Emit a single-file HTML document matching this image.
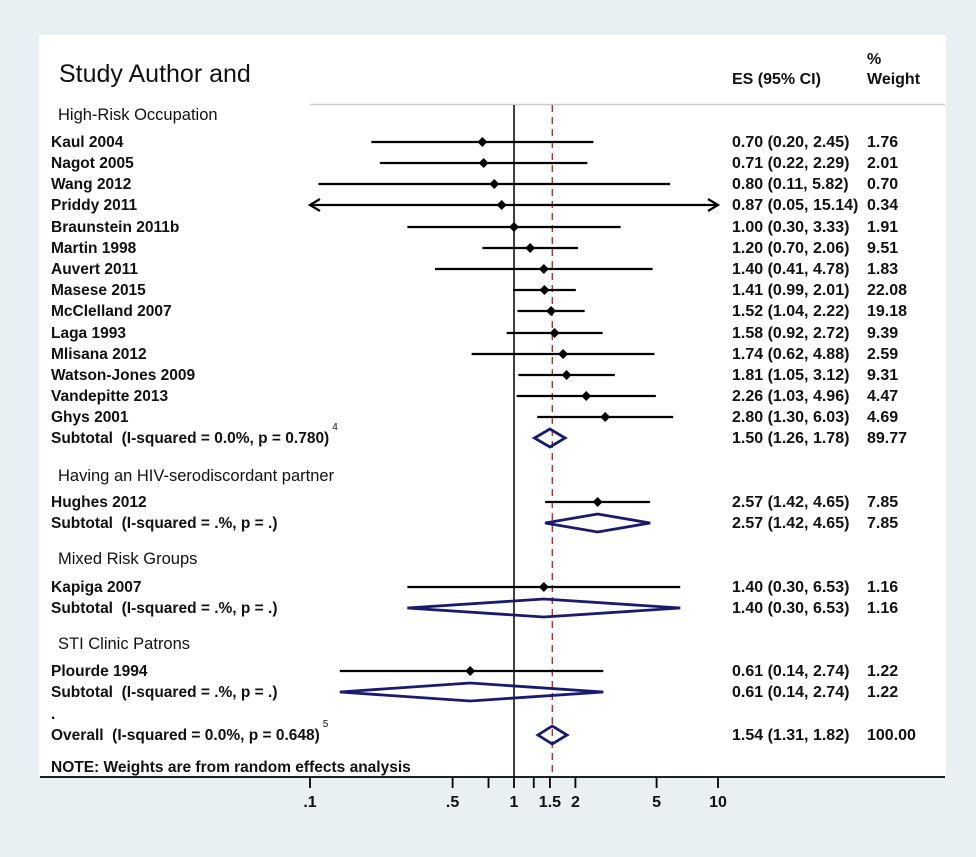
<!DOCTYPE html>
<html><head><meta charset="utf-8"><style>
body{margin:0;background:#e8f0f3;}
svg{display:block;font-family:"Liberation Sans",Arial,sans-serif;}
text{white-space:pre;}
</style></head><body>
<svg id="c" width="976" height="857" viewBox="0 0 976 857">
<rect x="0" y="0" width="976" height="857" fill="#e8f0f3"/>
<rect x="39" y="35" width="907" height="742" fill="#fff"/>
<text x="59" y="82" font-size="25" fill="#111">Study Author and</text>
<text x="732" y="84" font-size="16" font-weight="bold" fill="#111">ES (95% CI)</text>
<text x="867" y="64" font-size="16" font-weight="bold" fill="#111">%</text>
<text x="867" y="84" font-size="16" font-weight="bold" fill="#111">Weight</text>
<line x1="310" y1="104.5" x2="945" y2="104.5" stroke="#ccc" stroke-width="1.5"/>
<g id="marks"></g>
</svg>
<script>
// rows: type, label, es, lo, hi, weight
const rowTypes = ['g','s','s','s','s','s','s','s','s','s','s','s','s','s','s','t','g','s','t','g','s','t','g','s','t','d','o','n'];
const rowLabels = ['High-Risk Occupation','Kaul 2004','Nagot 2005','Wang 2012','Priddy 2011','Braunstein 2011b','Martin 1998','Auvert 2011','Masese 2015','McClelland 2007','Laga 1993','Mlisana 2012','Watson-Jones 2009','Vandepitte 2013','Ghys 2001','Subtotal  (I-squared = 0.0%, p = 0.780)','Having an HIV-serodiscordant partner','Hughes 2012','Subtotal  (I-squared = .%, p = .)','Mixed Risk Groups','Kapiga 2007','Subtotal  (I-squared = .%, p = .)','STI Clinic Patrons','Plourde 1994','Subtotal  (I-squared = .%, p = .)','.','Overall  (I-squared = 0.0%, p = 0.648)','NOTE: Weights are from random effects analysis'];
const rowY = [115,142,163,184,205,227,248,269,290,311,333,354,375,396,417,438,476,502,523,559,587,608,644,671,692,714,735,767];
const esVals = [null,0.70,0.71,0.80,0.87,1.00,1.20,1.40,1.41,1.52,1.58,1.74,1.81,2.26,2.80,1.50,null,2.57,2.57,null,1.40,1.40,null,0.61,0.61,null,1.54,null];
const loVals = [null,0.20,0.22,0.11,0.05,0.30,0.70,0.41,0.99,1.04,0.92,0.62,1.05,1.03,1.30,1.26,null,1.42,1.42,null,0.30,0.30,null,0.14,0.14,null,1.31,null];
const hiVals = [null,2.45,2.29,5.82,15.14,3.33,2.06,4.78,2.01,2.22,2.72,4.88,3.12,4.96,6.03,1.78,null,4.65,4.65,null,6.53,6.53,null,2.74,2.74,null,1.82,null];
const weights = [null,'1.76','2.01','0.70','0.34','1.91','9.51','1.83','22.08','19.18','9.39','2.59','9.31','4.47','4.69','89.77',null,'7.85','7.85',null,'1.16','1.16',null,'1.22','1.22',null,'100.00',null];
const tickVals = [0.1,0.5,0.75,1,1.25,1.5,2,5,10];
const tickLabels = ['.1','.5','','1','','1.5','2','5','10'];
const overallES = 1.54;

const NS='http://www.w3.org/2000/svg';
const g=document.getElementById('marks');
const X0=514, DEC=204, XMIN=0.1, XMAX=10;
function xs(v){return X0+Math.log10(v)*DEC;}
function mk(t,a){const e=document.createElementNS(NS,t);for(const k in a)e.setAttribute(k,a[k]);g.appendChild(e);return e;}
const f2=v=>v.toFixed(2);

let e=mk('line',{x1:xs(1),y1:105,x2:xs(1),y2:777,stroke:'#000','stroke-width':1.5});


e=mk('line',{x1:xs(overallES),y1:105,x2:xs(overallES),y2:777,stroke:'#8b1a1a','stroke-width':1.2,'stroke-dasharray':'7,5'});



rowTypes.forEach((t,i)=>{
  const y=rowY[i];
  const lab=mk('text',{x:t==='g'?58:51,y:y+5,'font-size':t==='g'?16.5:15.5,'font-weight':t==='g'?'normal':'bold',fill:'#111'});
  lab.textContent=rowLabels[i];
  
  
  if(t==='t'&&i===15||t==='o'){
    const bb=lab.getBBox();
    const s=mk('text',{x:bb.x+bb.width+3,y:y-8,'font-size':10,fill:'#111'});
    s.textContent=t==='o'?'5':'4';
    
    
  }
  if(esVals[i]==null) return;
  const es=esVals[i],lo=loVals[i],hi=hiVals[i];
  const et=mk('text',{x:732,y:y+5,'font-size':16,'font-weight':'bold',fill:'#111'});
  et.textContent=f2(es)+' ('+f2(lo)+', '+f2(hi)+')';
  
  
  const wt=mk('text',{x:867,y:y+5,'font-size':16,'font-weight':'bold',fill:'#111'});
  wt.textContent=weights[i];
  
  
  if(t==='s'){
    const x1=xs(Math.max(lo,XMIN)),x2=xs(Math.min(hi,XMAX));
    const l=mk('line',{x1:x1,y1:y,x2:x2,y2:y,stroke:'#000','stroke-width':2.2});
    
    
    if(lo<XMIN){const a=mk('path',{d:`M${x1+10},${y-6}L${x1},${y}L${x1+10},${y+6}`,fill:'none',stroke:'#000','stroke-width':2.2});
      
      }
    if(hi>XMAX){const a=mk('path',{d:`M${x2-10},${y-6}L${x2},${y}L${x2-10},${y+6}`,fill:'none',stroke:'#000','stroke-width':2.2});
      
      }
    const p=mk('path',{d:`M${xs(es)-5},${y}L${xs(es)},${y-5}L${xs(es)+5},${y}L${xs(es)},${y+5}Z`,fill:'#000'});
    
    
  } else {
    const d=mk('path',{d:`M${xs(lo)},${y}L${xs(es)},${y-9}L${xs(hi)},${y}L${xs(es)},${y+9}Z`,fill:'none',stroke:'#1a1a6e','stroke-width':2.8});
    
    
  }
});

e=mk('line',{x1:40,y1:777,x2:945,y2:777,stroke:'#000','stroke-width':1.8});


tickVals.forEach((v,i)=>{
  const tk=mk('line',{x1:xs(v),y1:777,x2:xs(v),y2:788,stroke:'#000','stroke-width':1.8});
  
  
  if(tickLabels[i]){
    const tl=mk('text',{x:xs(v),y:807,'font-size':16,'font-weight':'bold','text-anchor':'middle',fill:'#111'});
    tl.textContent=tickLabels[i];
    
    
  }
});
</script>
</body></html>
